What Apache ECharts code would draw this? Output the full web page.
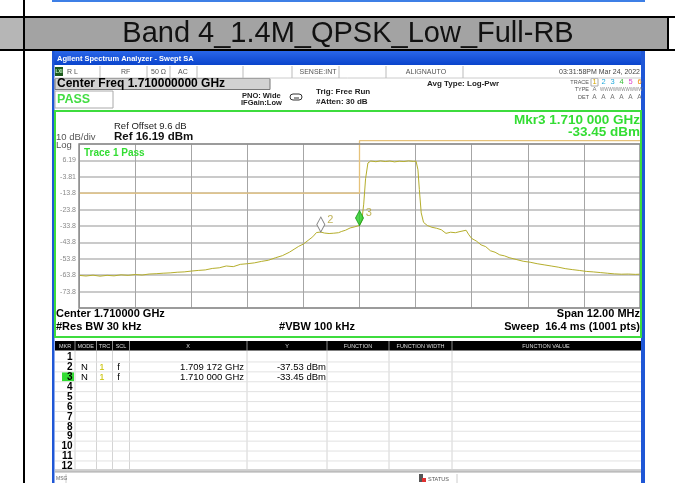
<!DOCTYPE html>
<html><head><meta charset="utf-8">
<script src="https://cdn.jsdelivr.net/npm/echarts@6/dist/echarts.min.js"></script>
<style>html,body{margin:0;padding:0;background:#fff}#c{width:675px;height:483px}</style>
</head><body><div id="c"></div>
<script>
const TITLE = 'Band 4_1.4M_QPSK_Low_Full-RB';
const REF_LEVEL = 16.19;
// trace: frequency offset from centre (MHz) and level (dBm)
const traceOffsetMHz = [-6.00,-5.85,-5.70,-5.55,-5.40,-5.25,-5.10,-4.95,-4.80,-4.65,-4.50,-4.35,-4.20,-4.05,-3.90,-3.75,-3.60,-3.45,-3.30,-3.15,-3.00,-2.85,-2.70,-2.55,-2.40,-2.25,-2.10,-1.95,-1.80,-1.65,-1.50,-1.40,-1.30,-1.20,-1.10,-1.00,-0.92,-0.83,-0.75,-0.65,-0.55,-0.45,-0.38,-0.30,-0.20,-0.10,0.00,0.05,0.09,0.13,0.18,0.24,0.35,0.45,0.55,0.65,0.75,0.85,0.95,1.05,1.15,1.21,1.25,1.28,1.32,1.37,1.45,1.55,1.65,1.75,1.85,1.95,2.05,2.15,2.28,2.34,2.40,2.50,2.60,2.70,2.80,2.90,3.00,3.10,3.20,3.35,3.50,3.65,3.80,3.95,4.10,4.25,4.40,4.55,4.70,4.85,5.00,5.15,5.30,5.45,5.60,5.75,5.90,6.00];
const traceDbm = [-63.9,-64.3,-63.8,-64.4,-63.9,-64.2,-63.6,-63.9,-63.4,-63.7,-63.1,-62.9,-62.6,-62.4,-62.0,-61.8,-61.3,-60.9,-60.6,-59.7,-59.3,-58.2,-58.6,-57.2,-56.8,-56.3,-55.4,-54.7,-53.2,-51.9,-49.8,-48.0,-46.2,-44.8,-42.6,-40.4,-37.8,-37.5,-38.1,-38.4,-38.2,-37.9,-37.1,-36.4,-35.0,-34.3,-33.45,-30.5,-20.5,-5.0,4.6,5.8,5.4,5.9,5.5,5.8,5.3,5.7,5.5,5.9,5.6,5.7,0.5,-11.5,-25.8,-31.6,-33.5,-34.6,-35.2,-36.1,-38.3,-37.6,-37.9,-37.2,-36.4,-39.2,-41.4,-43.0,-45.3,-46.4,-48.9,-49.8,-51.4,-52.0,-53.1,-54.2,-55.3,-55.9,-56.8,-57.5,-58.2,-58.9,-59.8,-60.4,-60.9,-61.5,-61.8,-62.2,-62.6,-63.0,-63.2,-63.1,-63.3,-63.2];
const limitOffsetMHz = [-6, 0, 0, 6];
const limitDbm = [-13.81, -13.81, 18.2, 18.2];
const markerNames = ['2', '3'];
const markerOffsetMHz = [-0.828, 0];
const markerDbm = [-37.53, -33.45];
const yTickLabels = ['', '-73.8', '-63.8', '-53.8', '-43.8', '-33.8', '-23.8', '-13.8', '-3.81', '6.19', ''];
const tableHeaders = ['MKR','MODE','TRC','SCL','X','Y','FUNCTION','FUNCTION WIDTH','FUNCTION VALUE'];
const tableRowNums = ['1','2','3','4','5','6','7','8','9','10','11','12'];
const tableMarkerRows = [
  {row: 2, mode: 'N', trc: '1', scl: 'f', x: '1.709 172 GHz', y: '-37.53 dBm'},
  {row: 3, mode: 'N', trc: '1', scl: 'f', x: '1.710 000 GHz', y: '-33.45 dBm'}
];

const FF = '"Liberation Sans", Arial, sans-serif';
function txt(x, y, s, size, o) {
  o = o || {};
  const al = o.align || 'left';
  return {type: 'text', x: x, y: y, z: 100, silent: true,
    style: {text: s, font: (o.bold ? 'bold ' : '') + size + 'px ' + FF, fill: o.color || '#000',
      textAlign: al, align: al, textVerticalAlign: 'middle', verticalAlign: 'middle'}};
}
function rect(x, y, w, h, fill, stroke, lw, z) {
  return {type: 'rect', z: z == null ? 10 : z, silent: true, shape: {x: x, y: y, width: w, height: h},
    style: {fill: fill || 'none', stroke: stroke || 'none', lineWidth: lw || 1}};
}
function line(x1, y1, x2, y2, stroke, lw, z) {
  return {type: 'line', z: z == null ? 20 : z, silent: true, shape: {x1: x1, y1: y1, x2: x2, y2: y2},
    style: {stroke: stroke, lineWidth: lw || 1}};
}

const g = [];
// document table frame and title band
g.push(rect(0, 17, 24, 33, '#b6b6b6'));
g.push(rect(24, 17, 644, 33, '#a3a3a3'));
g.push(line(0, 17, 675, 17, '#000', 2));
g.push(line(0, 50, 675, 50, '#000', 2));
g.push(line(24, 0, 24, 483, '#000', 2));
g.push(line(668, 17, 668, 50, '#000', 2));
g.push(line(52, 1, 645, 1, '#3d7fe6', 2));
g.push(txt(348, 34, TITLE, 29, {align: 'center', color: '#111'}));

// analyzer window
g.push({type: 'rect', z: 10, silent: true, shape: {x: 52, y: 51, width: 593, height: 14},
  style: {fill: new echarts.graphic.LinearGradient(0, 0, 0, 1, [{offset: 0, color: '#2a66e8'}, {offset: 1, color: '#0a44cc'}])}});
g.push(rect(52, 51, 2.5, 432, '#1f57d6'));
g.push(rect(641, 51, 4, 432, '#1f57d6'));
g.push(txt(57, 58.5, 'Agilent Spectrum Analyzer - Swept SA', 7.5, {bold: true, color: '#fff'}));

// status row
g.push(line(54, 78, 641, 78, '#ccc', 1));
[100, 147, 170, 197, 243, 292, 339, 386, 463].forEach(function (x) { g.push(line(x, 66, x, 78, '#bbb', 1)); });
g.push(rect(55, 67, 8, 9, '#1d5a1d'));
g.push(txt(59, 71.8, 'LXI', 4.5, {bold: true, color: '#cfc', align: 'center'}));
g.push(txt(67, 72, 'R L', 7, {color: '#555'}));
g.push(txt(121, 72, 'RF', 7, {color: '#555'}));
g.push(txt(151, 72, '50 Ω', 7, {color: '#555'}));
g.push(txt(178, 72, 'AC', 7, {color: '#555'}));
g.push(txt(318, 72, 'SENSE:INT', 7, {color: '#555', align: 'center'}));
g.push(txt(426, 72, 'ALIGNAUTO', 7, {color: '#555', align: 'center'}));
g.push(txt(640, 72, '03:31:58PM Mar 24, 2022', 7, {color: '#444', align: 'right'}));

// center freq box, PASS box
g.push(rect(55, 78.5, 215, 11, '#d2d2d2', '#777', 1));
g.push(txt(57, 84, 'Center Freq 1.710000000 GHz', 12, {bold: true}));
g.push(rect(55, 91, 58, 17, '#fff', '#aaa', 1));
g.push(txt(57, 99.5, 'PASS', 12.5, {bold: true, color: '#44dd44'}));
g.push(txt(242, 95.5, 'PNO: Wide', 7.5, {bold: true, color: '#222'}));
g.push(txt(241, 103, 'IFGain:Low', 7.5, {bold: true, color: '#222'}));
g.push({type: 'rect', z: 20, silent: true, shape: {x: 290, y: 94, width: 12, height: 6, r: 3}, style: {fill: 'none', stroke: '#333', lineWidth: 1}});
g.push(line(294, 98, 299, 98, '#333', 1));
g.push(txt(316, 91.5, 'Trig: Free Run', 8, {bold: true, color: '#222'}));
g.push(txt(316, 102, '#Atten: 30 dB', 8, {bold: true, color: '#222'}));
g.push(txt(427, 83.5, 'Avg Type: Log-Pwr', 8, {bold: true, color: '#222'}));
g.push(txt(589, 82, 'TRACE', 5.5, {color: '#555', align: 'right'}));
g.push(txt(589, 89.5, 'TYPE', 5.5, {color: '#555', align: 'right'}));
g.push(txt(589, 97, 'DET', 5.5, {color: '#555', align: 'right'}));
g.push(rect(591, 78.5, 7, 7.5, 'none', '#aaa', 1));
const traceNumColors = ['#d8a800', '#22aadd', '#22aadd', '#33bb33', '#dd44cc', '#ee8800'];
traceNumColors.forEach(function (c, i) { g.push(txt(594.5 + i * 9, 82.3, String(i + 1), 7.5, {color: c, align: 'center'})); });
g.push(txt(594.5, 89.8, 'A', 6, {color: '#777', align: 'center'}));
g.push(txt(600, 89.8, 'WWWWWWWWWW', 4.5, {color: '#888'}));
for (let i = 0; i < 6; i++) g.push(txt(594.5 + i * 9, 97.3, 'A', 6.5, {color: '#777', align: 'center'}));

// green frame around measurement area
g.push(rect(55, 111, 586, 226, 'none', '#3ddc3d', 2, 30));

g.push(txt(114, 126, 'Ref Offset 9.6 dB', 9.5, {color: '#222'}));
g.push(txt(114, 137, 'Ref 16.19 dBm', 11.5, {bold: true, color: '#111'}));
g.push(txt(56, 137, '10 dB/div', 9.5, {color: '#555'}));
g.push(txt(56, 145, 'Log', 9.5, {color: '#555'}));
g.push(txt(640, 120, 'Mkr3 1.710 000 GHz', 13.5, {bold: true, color: '#33dd33', align: 'right'}));
g.push(txt(640, 132, '-33.45 dBm', 13.5, {bold: true, color: '#33dd33', align: 'right'}));
g.push(txt(84, 153.5, 'Trace 1 Pass', 10, {bold: true, color: '#33dd33'}));
g.push(rect(79, 144, 561, 164, 'none', '#8c8c8c', 1.5, 5));

g.push(txt(56, 314, 'Center 1.710000 GHz', 11, {bold: true}));
g.push(txt(56, 326.5, '#Res BW 30 kHz', 11, {bold: true}));
g.push(txt(317, 326.5, '#VBW 100 kHz', 11, {bold: true, align: 'center'}));
g.push(txt(640, 314, 'Span 12.00 MHz', 11, {bold: true, align: 'right'}));
g.push(txt(640, 326.5, 'Sweep  16.4 ms (1001 pts)', 11, {bold: true, align: 'right'}));

// marker table
const colSep = [75, 96.5, 112.5, 129.5, 247, 327, 389, 452];
const headerX = [65, 85.7, 104.5, 121, 188, 287, 358, 420.5, 546];
g.push(rect(55, 341, 586, 9.5, '#000'));
colSep.forEach(function (x) { g.push(line(x, 341, x, 350.5, '#888', 1, 25)); g.push(line(x, 350.5, x, 470, '#d4d4d4', 1)); });
tableHeaders.forEach(function (h, i) { g.push(txt(headerX[i], 346, h, 5.5, {color: '#ddd', align: 'center'})); });
const rowH = 9.9, row1Y = 357;
for (let i = 0; i < 12; i++) g.push(line(55, row1Y + (i + 0.5) * rowH, 641, row1Y + (i + 0.5) * rowH, '#e2e2e2', 1));
g.push(rect(62, row1Y + 2 * rowH - 4.6, 12, 9.2, '#33dd33', null, 1, 15));
tableRowNums.forEach(function (n, i) { g.push(txt(72.5, row1Y + i * rowH + 0.5, n, 10, {bold: true, align: 'right'})); });
tableMarkerRows.forEach(function (r) {
  const y = row1Y + (r.row - 1) * rowH + 0.5;
  g.push(txt(84.5, y, r.mode, 9.5, {align: 'center'}));
  g.push(txt(102, y, r.trc, 9.5, {align: 'center', color: '#c8c000'}));
  g.push(txt(118.5, y, r.scl, 9.5, {align: 'center'}));
  g.push(txt(244, y, r.x, 9.5, {align: 'right'}));
  g.push(txt(326, y, r.y, 9.5, {align: 'right'}));
});
g.push(rect(55, 469.5, 586, 3, '#a8a8a8'));
g.push(txt(56, 479, 'MSG', 5, {color: '#666'}));
g.push(line(66, 474, 66, 483, '#ccc', 1));
g.push(rect(419, 474, 4, 8, '#555'));
g.push(rect(422, 478, 4, 4, '#e03030'));
g.push(txt(428, 479, 'STATUS', 5.5, {color: '#555'}));
g.push(line(457, 474, 457, 483, '#ccc', 1));

const chart = echarts.init(document.getElementById('c'), null, {renderer: 'canvas'});
const rel = function (v) { return v - REF_LEVEL; };
chart.setOption({
  animation: false,
  backgroundColor: '#fff',
  grid: {left: 79, top: 144, width: 561, height: 164, show: false},
  xAxis: {type: 'value', min: -6, max: 6, interval: 1.2,
    axisLine: {show: false}, axisTick: {show: false}, axisLabel: {show: false},
    splitLine: {show: true, lineStyle: {color: '#a6a6a6', width: 1}}},
  yAxis: {type: 'value', min: -100, max: 0, interval: 10,
    axisLine: {show: false}, axisTick: {show: false},
    axisLabel: {show: true, margin: 3, color: '#8a8a8a', fontSize: 7, fontFamily: FF,
      formatter: function (v) { return yTickLabels[Math.round((v + 100) / 10)] || ''; }},
    splitLine: {show: true, lineStyle: {color: '#b8b8b8', width: 1.5}}},
  series: [
    {type: 'line', name: 'Limit', clip: false, symbol: 'none', z: 3,
      lineStyle: {color: '#e6c27a', width: 1.3},
      data: limitOffsetMHz.map(function (f, i) { return [f, rel(limitDbm[i])]; })},
    {type: 'line', name: 'Trace 1', symbol: 'none', z: 4,
      lineStyle: {color: '#b5ae2c', width: 1},
      data: traceOffsetMHz.map(function (f, i) { return [f, rel(traceDbm[i])]; })},
    {type: 'scatter', name: 'Markers', z: 6, symbol: 'diamond', symbolSize: [8, 15], symbolOffset: [0, '-50%'],
      data: markerOffsetMHz.map(function (f, i) {
        return {value: [f, rel(markerDbm[i])], name: markerNames[i],
          itemStyle: i === 0 ? {color: '#fff', borderColor: '#666', borderWidth: 1} : {color: '#22cc22', borderColor: '#119911', borderWidth: 1}};
      }),
      label: {show: true, position: 'right', distance: 2, offset: [0, -5], formatter: '{b}', color: '#b0a030', fontSize: 11, fontFamily: FF}}
  ],
  graphic: {elements: g}
});
</script></body></html>
